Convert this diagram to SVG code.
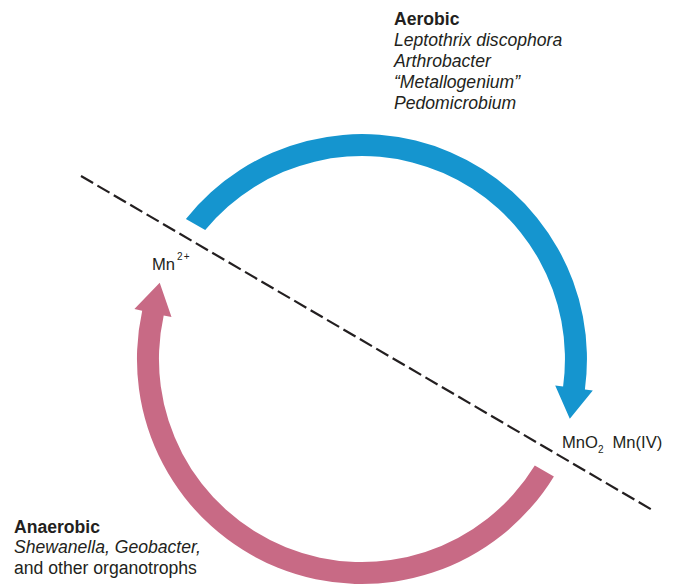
<svg xmlns="http://www.w3.org/2000/svg" width="675" height="585" viewBox="0 0 675 585">
  <style>
    text { font-family: "Liberation Sans", Arial, sans-serif; font-size: 17.6px; fill: #231f20; }
    .b { font-weight: bold; }
    .i { font-style: italic; }
    .species { font-size: 16.6px; }
    .sup { font-size: 10px; }
    .sub { font-size: 10px; }
    .aero { fill: #1595cf; }
    .anaero { fill: #c86a85; }
    .boundary { stroke: #231f20; stroke-width: 2.2; stroke-dasharray: 14 5; fill: none; }
  </style>
  <rect width="675" height="585" fill="#ffffff"/>

  <!-- oxic / anoxic boundary -->
  <g id="connectors">
    <line class="boundary" x1="81" y1="176" x2="654" y2="511"/>
    <!-- Mn2+ -> MnO2 (oxidation) -->
    <path id="oxidation-arrow" class="aero" d="M185.9,219 A225,225 0 0 1 584.9,389.5 L592.8,390.6 L569.8,418.7 L555.2,385.5 L563.1,386.5 A203,203 0 0 0 205.2,230.1 Z"/>
    <!-- MnO2 -> Mn2+ (reduction) -->
    <path id="reduction-arrow" class="anaero" d="M553.9,476.4 A225,225 0 0 1 142.2,310.7 L134.4,309 L159.7,282.8 L171.5,317.1 L163.7,315.4 A203,203 0 0 0 534.8,465.5 Z"/>
  </g>

  <g id="aerobic-label">
    <text class="b" x="394" y="25">Aerobic</text>
    <text class="i" x="394" y="46">Leptothrix discophora</text>
    <text class="i" x="394" y="67">Arthrobacter</text>
    <text class="i" x="394" y="88">“Metallogenium”</text>
    <text class="i" x="394" y="109">Pedomicrobium</text>
  </g>

  <g id="mn2">
    <text class="species" x="152" y="270">Mn<tspan class="sup" dy="-10" dx="2">2</tspan><tspan class="sup" dx="1">+</tspan></text>
  </g>

  <g id="mno2">
    <text class="species" x="562" y="448">MnO<tspan class="sub" dy="5">2</tspan><tspan dy="-5" dx="9">Mn(IV)</tspan></text>
  </g>

  <g id="anaerobic-label">
    <text class="b" x="14" y="533">Anaerobic</text>
    <text class="i" x="14" y="553">Shewanella, Geobacter,</text>
    <text x="14" y="574">and other organotrophs</text>
  </g>
</svg>
